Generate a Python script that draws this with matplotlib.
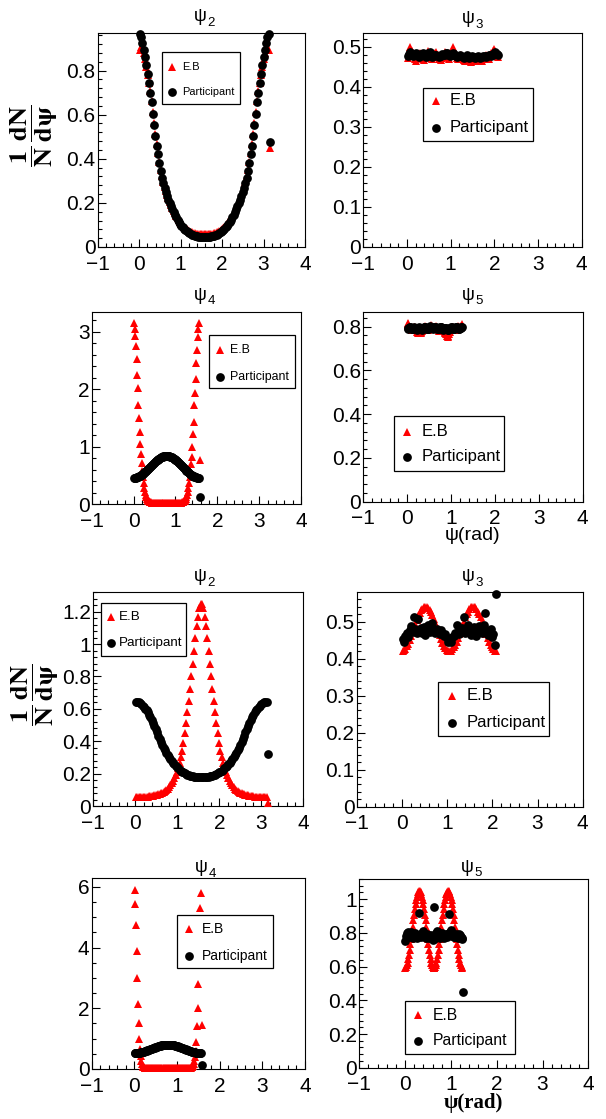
import numpy as np
import matplotlib
matplotlib.use("Agg")
import matplotlib.pyplot as plt
from matplotlib.ticker import MultipleLocator, FuncFormatter
from matplotlib.patches import Rectangle
from matplotlib.lines import Line2D

plt.rcParams['font.family'] = ['Liberation Sans', 'DejaVu Sans']

# ---------------- data ----------------
# bin widths (rad)
w_coarse = np.pi / 100
w_fine = np.pi / 200

# --- upper group ---
psi2_a_eb = [0.895, 0.905, 0.9, 0.88, 0.85, 0.815, 0.78, 0.745, 0.705, 0.66,
             0.61, 0.56, 0.51, 0.465, 0.425, 0.385, 0.35, 0.32, 0.295, 0.273,
             0.253, 0.236, 0.22, 0.205, 0.191, 0.178, 0.165, 0.153, 0.142, 0.132,
             0.122, 0.113, 0.105, 0.098, 0.091, 0.085, 0.08, 0.076, 0.072, 0.069,
             0.066, 0.064, 0.062, 0.061, 0.06, 0.059, 0.058, 0.058, 0.057, 0.057,
             0.057, 0.057, 0.058, 0.058, 0.059, 0.06, 0.061, 0.062, 0.064, 0.066,
             0.069, 0.072, 0.076, 0.08, 0.085, 0.091, 0.098, 0.105, 0.113, 0.122,
             0.132, 0.142, 0.153, 0.165, 0.178, 0.191, 0.205, 0.22, 0.236, 0.253,
             0.273, 0.295, 0.32, 0.35, 0.385, 0.425, 0.465, 0.51, 0.56, 0.61,
             0.66, 0.705, 0.745, 0.78, 0.815, 0.85, 0.88, 0.9, 0.905, 0.895,
             0.45]
psi2_a_part = [0.965, 0.95, 0.925, 0.895, 0.86, 0.825, 0.785, 0.745, 0.70, 0.655,
               0.605, 0.555, 0.505, 0.46, 0.42, 0.38, 0.345, 0.315, 0.29, 0.268,
               0.248, 0.23, 0.214, 0.199, 0.185, 0.171, 0.158, 0.146, 0.135, 0.124,
               0.114, 0.105, 0.097, 0.089, 0.082, 0.076, 0.071, 0.066, 0.062, 0.059,
               0.056, 0.053, 0.051, 0.049, 0.048, 0.047, 0.046, 0.045, 0.045, 0.045,
               0.045, 0.045, 0.045, 0.046, 0.047, 0.048, 0.049, 0.051, 0.053, 0.056,
               0.059, 0.062, 0.066, 0.071, 0.076, 0.082, 0.089, 0.097, 0.105, 0.114,
               0.124, 0.135, 0.146, 0.158, 0.171, 0.185, 0.199, 0.214, 0.23, 0.248,
               0.268, 0.29, 0.315, 0.345, 0.38, 0.42, 0.46, 0.505, 0.555, 0.605,
               0.655, 0.70, 0.745, 0.785, 0.825, 0.86, 0.895, 0.925, 0.95, 0.965,
               0.475]

psi3_a_eb = [0.472, 0.485, 0.498, 0.49, 0.478, 0.468, 0.465, 0.472, 0.48, 0.485,
             0.478, 0.47, 0.467, 0.474, 0.482, 0.488, 0.48, 0.472, 0.468, 0.475,
             0.483, 0.487, 0.478, 0.469, 0.466, 0.472, 0.48, 0.486, 0.482, 0.475,
             0.47, 0.476, 0.488, 0.499, 0.49, 0.478, 0.472, 0.47, 0.474, 0.478,
             0.472, 0.466, 0.463, 0.465, 0.468, 0.464, 0.462, 0.465, 0.469, 0.466,
             0.463, 0.465, 0.47, 0.468, 0.465, 0.468, 0.474, 0.478, 0.475, 0.47,
             0.476, 0.483, 0.49, 0.494, 0.488, 0.48, 0.474]
psi3_a_part = [0.476, 0.482, 0.486, 0.48, 0.476, 0.479, 0.484, 0.478, 0.474, 0.477,
               0.481, 0.483, 0.478, 0.475, 0.48, 0.485, 0.486, 0.479, 0.474, 0.476,
               0.479, 0.478, 0.476, 0.474, 0.477, 0.482, 0.48, 0.478, 0.483, 0.485,
               0.48, 0.476, 0.478, 0.484, 0.481, 0.477, 0.474, 0.476, 0.479, 0.477,
               0.474, 0.472, 0.475, 0.478, 0.474, 0.471, 0.473, 0.476, 0.474, 0.472,
               0.475, 0.477, 0.474, 0.472, 0.474, 0.477, 0.476, 0.474, 0.477, 0.48,
               0.478, 0.476, 0.479, 0.483, 0.486, 0.482, 0.478]

psi4_a_eb = [3.15, 3.05, 2.93, 2.75, 2.52, 2.25, 2.02, 1.72, 1.50, 1.25,
             1.05, 0.87, 0.72, 0.58, 0.47, 0.37, 0.29, 0.22, 0.17, 0.13,
             0.10, 0.08, 0.065, 0.052, 0.043, 0.037, 0.032, 0.028, 0.026, 0.024,
             0.023, 0.022, 0.021, 0.021, 0.02, 0.02, 0.02, 0.02, 0.02, 0.02,
             0.02, 0.02, 0.02, 0.02, 0.02, 0.02, 0.02, 0.02, 0.02, 0.02,
             0.02, 0.02, 0.02, 0.02, 0.02, 0.02, 0.02, 0.02, 0.02, 0.02,
             0.02, 0.02, 0.02, 0.02, 0.02, 0.02, 0.021, 0.021, 0.022, 0.023,
             0.024, 0.026, 0.028, 0.032, 0.037, 0.043, 0.052, 0.065, 0.08, 0.10,
             0.13, 0.17, 0.22, 0.29, 0.37, 0.47, 0.58, 0.70, 0.83, 1.0,
             1.22, 1.43, 1.72, 1.93, 2.18, 2.45, 2.68, 2.9, 3.05, 3.15,
             0.77]
psi4_a_part = [0.460, 0.461, 0.462, 0.465, 0.468, 0.471, 0.476, 0.481, 0.486, 0.493,
               0.500, 0.507, 0.516, 0.524, 0.534, 0.543, 0.553, 0.564, 0.575, 0.586,
               0.597, 0.609, 0.620, 0.632, 0.644, 0.656, 0.668, 0.680, 0.691, 0.703,
               0.714, 0.725, 0.736, 0.747, 0.757, 0.766, 0.776, 0.784, 0.793, 0.800,
               0.807, 0.814, 0.819, 0.824, 0.829, 0.832, 0.835, 0.838, 0.839, 0.840,
               0.840, 0.839, 0.838, 0.835, 0.832, 0.829, 0.824, 0.819, 0.814, 0.807,
               0.800, 0.793, 0.784, 0.776, 0.766, 0.757, 0.747, 0.736, 0.725, 0.714,
               0.703, 0.691, 0.680, 0.668, 0.656, 0.644, 0.632, 0.620, 0.609, 0.597,
               0.586, 0.575, 0.564, 0.553, 0.543, 0.534, 0.524, 0.516, 0.507, 0.500,
               0.493, 0.486, 0.481, 0.476, 0.471, 0.468, 0.465, 0.462, 0.461, 0.460,
               0.12]

psi5_a_eb = [0.818, 0.812, 0.805, 0.798, 0.793, 0.79, 0.786, 0.784, 0.789, 0.795,
             0.8, 0.797, 0.79, 0.783, 0.776, 0.772, 0.774, 0.78, 0.776, 0.771,
             0.775, 0.782, 0.788, 0.793, 0.797, 0.8, 0.803, 0.8, 0.795, 0.79,
             0.786, 0.789, 0.794, 0.8, 0.806, 0.803, 0.798, 0.793, 0.789, 0.792,
             0.797, 0.802, 0.8, 0.795, 0.79, 0.786, 0.782, 0.785, 0.79, 0.795,
             0.799, 0.796, 0.79, 0.784, 0.778, 0.772, 0.765, 0.758, 0.752, 0.758,
             0.768, 0.778, 0.786, 0.792, 0.797, 0.8, 0.798, 0.794, 0.79, 0.787,
             0.79, 0.795, 0.8, 0.804, 0.801, 0.797, 0.794, 0.798, 0.805, 0.812]
psi5_a_part = [0.788, 0.792, 0.796, 0.8, 0.797, 0.793, 0.79, 0.788, 0.791, 0.795,
               0.798, 0.796, 0.792, 0.789, 0.787, 0.79, 0.794, 0.797, 0.795, 0.791,
               0.788, 0.786, 0.789, 0.793, 0.797, 0.8, 0.798, 0.794, 0.79, 0.788,
               0.791, 0.795, 0.799, 0.802, 0.799, 0.795, 0.792, 0.79, 0.793, 0.797,
               0.8, 0.797, 0.793, 0.79, 0.788, 0.79, 0.794, 0.798, 0.801, 0.798,
               0.794, 0.79, 0.787, 0.789, 0.793, 0.796, 0.794, 0.79, 0.787, 0.786,
               0.789, 0.792, 0.796, 0.799, 0.797, 0.793, 0.79, 0.788, 0.791, 0.795,
               0.798, 0.8, 0.797, 0.793, 0.79, 0.789, 0.792, 0.796, 0.799, 0.797]

# --- lower group ---
psi2_b_eb = [0.055, 0.054, 0.054, 0.054, 0.055, 0.055, 0.056, 0.056, 0.057, 0.058,
             0.059, 0.06, 0.061, 0.063, 0.065, 0.067, 0.069, 0.072, 0.075, 0.079,
             0.083, 0.088, 0.093, 0.1, 0.108, 0.117, 0.128, 0.14, 0.155, 0.172,
             0.19, 0.21, 0.235, 0.265, 0.30, 0.34, 0.39, 0.45, 0.51, 0.58,
             0.65, 0.72, 0.80, 0.88, 0.96, 1.04, 1.11, 1.17, 1.22, 1.25,
             1.25, 1.22, 1.17, 1.11, 1.04, 0.96, 0.88, 0.80, 0.72, 0.65,
             0.58, 0.51, 0.45, 0.39, 0.34, 0.30, 0.265, 0.235, 0.21, 0.19,
             0.172, 0.155, 0.14, 0.128, 0.117, 0.108, 0.1, 0.093, 0.088, 0.083,
             0.079, 0.075, 0.072, 0.069, 0.067, 0.065, 0.063, 0.061, 0.06, 0.059,
             0.058, 0.057, 0.056, 0.056, 0.055, 0.055, 0.054, 0.054, 0.054, 0.055,
             0.02]
psi2_b_part = [0.645, 0.643, 0.64, 0.635, 0.628, 0.62, 0.61, 0.60, 0.59, 0.578,
               0.563, 0.547, 0.53, 0.513, 0.495, 0.476, 0.456, 0.435, 0.414, 0.395,
               0.377, 0.36, 0.345, 0.33, 0.316, 0.303, 0.29, 0.279, 0.268, 0.258,
               0.249, 0.24, 0.232, 0.225, 0.218, 0.212, 0.207, 0.202, 0.198, 0.194,
               0.191, 0.188, 0.186, 0.184, 0.182, 0.181, 0.18, 0.179, 0.179, 0.178,
               0.178, 0.179, 0.179, 0.18, 0.181, 0.182, 0.184, 0.186, 0.188, 0.191,
               0.194, 0.198, 0.202, 0.207, 0.212, 0.218, 0.225, 0.232, 0.24, 0.249,
               0.258, 0.268, 0.279, 0.29, 0.303, 0.316, 0.33, 0.345, 0.36, 0.377,
               0.395, 0.414, 0.435, 0.456, 0.476, 0.495, 0.513, 0.53, 0.547, 0.563,
               0.578, 0.59, 0.60, 0.61, 0.62, 0.628, 0.635, 0.64, 0.643, 0.645,
               0.32]

psi3_b_eb = [0.420, 0.422, 0.427, 0.433, 0.440, 0.449, 0.460, 0.471, 0.482, 0.493,
             0.504, 0.514, 0.522, 0.530, 0.535, 0.539, 0.540, 0.539, 0.536, 0.532,
             0.525, 0.517, 0.507, 0.497, 0.486, 0.474, 0.463, 0.453, 0.443, 0.435,
             0.428, 0.424, 0.421, 0.420, 0.421, 0.425, 0.430, 0.438, 0.446, 0.456,
             0.467, 0.478, 0.489, 0.500, 0.511, 0.520, 0.527, 0.533, 0.538, 0.540,
             0.540, 0.538, 0.533, 0.527, 0.520, 0.511, 0.500, 0.489, 0.478, 0.467,
             0.456, 0.446, 0.438, 0.430, 0.425, 0.421, 0.420]
psi3_b_part = [0.452, 0.445, 0.462, 0.47, 0.458, 0.478, 0.488, 0.472, 0.512, 0.48,
               0.468, 0.506, 0.476, 0.482, 0.47, 0.485, 0.464, 0.478, 0.49, 0.472,
               0.483, 0.496, 0.476, 0.468, 0.481, 0.474, 0.466, 0.478, 0.47, 0.46,
               0.466, 0.455, 0.446, 0.452, 0.444, 0.458, 0.462, 0.47, 0.49, 0.472,
               0.466, 0.476, 0.482, 0.512, 0.47, 0.48, 0.49, 0.475, 0.465, 0.478,
               0.484, 0.47, 0.462, 0.476, 0.488, 0.48, 0.47, 0.49, 0.522, 0.478,
               0.464, 0.472, 0.48, 0.458, 0.466, 0.438, 0.575]

psi4_b_eb = [5.9, 5.45, 4.75, 3.9, 3.0, 2.15, 1.5, 1.0, 0.65, 0.42,
             0.27, 0.17, 0.11, 0.075, 0.055, 0.042, 0.034, 0.028, 0.025, 0.023,
             0.022, 0.021, 0.02, 0.02, 0.02, 0.02, 0.02, 0.02, 0.02, 0.02,
             0.02, 0.02, 0.02, 0.02, 0.02, 0.02, 0.02, 0.02, 0.02, 0.02,
             0.02, 0.02, 0.02, 0.02, 0.02, 0.02, 0.02, 0.02, 0.02, 0.02,
             0.02, 0.02, 0.02, 0.02, 0.02, 0.02, 0.02, 0.02, 0.02, 0.02,
             0.02, 0.02, 0.02, 0.02, 0.02, 0.02, 0.02, 0.02, 0.02, 0.02,
             0.02, 0.02, 0.02, 0.02, 0.02, 0.02, 0.02, 0.02, 0.021, 0.022,
             0.023, 0.025, 0.028, 0.034, 0.042, 0.055, 0.075, 0.11, 0.17, 0.26,
             0.4, 0.6, 0.9, 1.4, 2.0, 2.8, 3.8, 4.6, 5.3, 5.8,
             1.45]
psi4_b_part = [0.520, 0.521, 0.522, 0.523, 0.526, 0.528, 0.532, 0.535, 0.539, 0.544,
               0.549, 0.555, 0.561, 0.567, 0.574, 0.581, 0.589, 0.596, 0.604, 0.613,
               0.621, 0.629, 0.638, 0.647, 0.656, 0.664, 0.673, 0.682, 0.691, 0.699,
               0.707, 0.716, 0.724, 0.731, 0.739, 0.746, 0.753, 0.759, 0.765, 0.771,
               0.776, 0.781, 0.785, 0.788, 0.792, 0.794, 0.797, 0.798, 0.799, 0.800,
               0.800, 0.799, 0.798, 0.797, 0.794, 0.792, 0.788, 0.785, 0.781, 0.776,
               0.771, 0.765, 0.759, 0.753, 0.746, 0.739, 0.731, 0.724, 0.716, 0.707,
               0.699, 0.691, 0.682, 0.673, 0.664, 0.656, 0.647, 0.638, 0.629, 0.621,
               0.613, 0.604, 0.596, 0.589, 0.581, 0.574, 0.567, 0.561, 0.555, 0.549,
               0.544, 0.539, 0.535, 0.532, 0.528, 0.526, 0.523, 0.522, 0.521, 0.520,
               0.13]

psi5_b_eb = [0.591, 0.596, 0.607, 0.624, 0.645, 0.671, 0.700, 0.732, 0.766, 0.802,
             0.838, 0.874, 0.908, 0.940, 0.969, 0.995, 1.016, 1.032, 1.044, 1.049,
             1.049, 1.044, 1.032, 1.016, 0.995, 0.969, 0.940, 0.908, 0.874, 0.838,
             0.802, 0.766, 0.732, 0.700, 0.671, 0.645, 0.624, 0.607, 0.596, 0.591,
             0.591, 0.596, 0.607, 0.624, 0.645, 0.671, 0.700, 0.732, 0.766, 0.802,
             0.838, 0.874, 0.908, 0.940, 0.969, 0.995, 1.016, 1.032, 1.044, 1.049,
             1.049, 1.044, 1.032, 1.016, 0.995, 0.969, 0.940, 0.908, 0.874, 0.838,
             0.802, 0.766, 0.732, 0.700, 0.671, 0.645, 0.624, 0.607, 0.596, 0.591]
psi5_b_part = [0.752, 0.78, 0.798, 0.805, 0.79, 0.776, 0.784, 0.8, 0.808, 0.795,
               0.78, 0.772, 0.785, 0.797, 0.79, 0.778, 0.77, 0.782, 0.79, 0.92,
               0.785, 0.776, 0.788, 0.8, 0.812, 0.803, 0.79, 0.778, 0.772, 0.78,
               0.792, 0.786, 0.775, 0.768, 0.778, 0.79, 0.783, 0.77, 0.758, 0.955,
               0.762, 0.775, 0.788, 0.8, 0.81, 0.805, 0.792, 0.78, 0.772, 0.779,
               0.79, 0.797, 0.788, 0.777, 0.771, 0.78, 0.793, 0.784, 0.776, 0.78,
               0.91, 0.798, 0.808, 0.815, 0.802, 0.79, 0.78, 0.773, 0.778, 0.787,
               0.795, 0.786, 0.776, 0.77, 0.782, 0.794, 0.788, 0.778, 0.772, 0.765,
               0.45]

titles = ["2", "3", "4", "5", "2", "3", "4", "5"]
legend_labels = ["E.B", "Participant"]

# ---------------- layout / style ----------------
W, H = 606, 1119
fig = plt.figure(figsize=(W / 100, H / 100), dpi=100)


def fx(px):
    return px / W


def fy(py):
    return 1 - py / H


panels = [
    dict(eb=psi2_a_eb, part=psi2_a_part, w=w_coarse, box=(97.7, 33, 305, 247),
         ymax=0.97, ymaj=0.2, ymin=0.04,
         leg=(161.7, 52.3, 240, 104.3), leg_y=(66.7, 91.7), leg_mx=171.7, leg_tx=181.7, leg_fs=7.9,
         tx=200.5, ty=16.5),
    dict(eb=psi3_a_eb, part=psi3_a_part, w=w_coarse, box=(363.3, 33, 581.7, 247),
         ymax=0.534, ymaj=0.1, ymin=0.02,
         leg=(422.7, 87.7, 533.3, 141), leg_y=(100.7, 127.7), leg_mx=436, leg_tx=450, leg_fs=12,
         tx=468, ty=18.5),
    dict(eb=psi4_a_eb, part=psi4_a_part, w=w_fine, box=(91.7, 312.3, 301, 504.3),
         ymax=3.335, ymaj=1, ymin=0.2,
         leg=(209.3, 335, 295, 388.3), leg_y=(350, 376.7), leg_mx=220, leg_tx=230, leg_fs=8.9,
         tx=200.5, ty=295),
    dict(eb=psi5_a_eb, part=psi5_a_part, w=w_fine, box=(363.3, 312.3, 582.7, 501.7),
         ymax=0.866, ymaj=0.2, ymin=0.04,
         leg=(394.3, 416, 504.3, 470.7), leg_y=(431.7, 456.7), leg_mx=407.3, leg_tx=421.7, leg_fs=12,
         tx=468, ty=295),
    dict(eb=psi2_b_eb, part=psi2_b_part, w=w_coarse, box=(93.3, 592.3, 303.3, 806),
         ymax=1.32, ymaj=0.2, ymin=0.04,
         leg=(100.7, 602.7, 186, 656), leg_y=(616.7, 642.7), leg_mx=111, leg_tx=119.3, leg_fs=9.6,
         tx=200.5, ty=576.5),
    dict(eb=psi3_b_eb, part=psi3_b_part, w=w_coarse, box=(356.7, 592.3, 582.7, 806.7),
         ymax=0.579, ymaj=0.1, ymin=0.02,
         leg=(438.3, 682.3, 549.3, 735.7), leg_y=(696, 722.7), leg_mx=451.7, leg_tx=466.7, leg_fs=12,
         tx=468, ty=576.5),
    dict(eb=psi4_b_eb, part=psi4_b_part, w=w_fine, box=(91.7, 878.3, 305, 1069),
         ymax=6.28, ymaj=2, ymin=0.5,
         leg=(177.3, 915, 273.3, 968.3), leg_y=(929.3, 955.7), leg_mx=189.3, leg_tx=201.7, leg_fs=10,
         tx=201, ty=868),
    dict(eb=psi5_b_eb, part=psi5_b_part, w=w_fine, box=(359.3, 879, 588.3, 1067.7),
         ymax=1.12, ymaj=0.2, ymin=0.04,
         leg=(405, 1001, 515, 1054), leg_y=(1015, 1040.7), leg_mx=418.3, leg_tx=432.7, leg_fs=11.3,
         tx=467, ty=867),
]

TRI_MS = 5.6
CIRC_MS = 6.3
RED = '#ff0000'


def fmt(v, pos):
    s = '%g' % round(v, 6)
    return s.replace('-', '\u2212')


for k, p in enumerate(panels):
    x0, y0, x1, y1 = p['box']
    ax = fig.add_axes([fx(x0), fy(y1), fx(x1) - fx(x0), fy(y0) - fy(y1)])
    xe = (np.arange(len(p['eb'])) + 0.5) * p['w']
    xp = (np.arange(len(p['part'])) + 0.5) * p['w']
    ax.plot(xe, p['eb'], ls='none', marker='^', ms=TRI_MS, mew=0, color=RED, clip_on=False, zorder=3)
    ax.plot(xp, p['part'], ls='none', marker='o', ms=CIRC_MS, mew=0, color='black', clip_on=False, zorder=4)
    ax.set_xlim(-1, 4)
    ax.set_ylim(0, p['ymax'])
    ax.xaxis.set_major_locator(MultipleLocator(1))
    ax.xaxis.set_minor_locator(MultipleLocator(0.2))
    ax.yaxis.set_major_locator(MultipleLocator(p['ymaj']))
    ax.yaxis.set_minor_locator(MultipleLocator(p['ymin']))
    ax.xaxis.set_major_formatter(FuncFormatter(fmt))
    ax.yaxis.set_major_formatter(FuncFormatter(fmt))
    ax.tick_params(which='both', direction='in', top=False, right=False, width=0.8, colors='black')
    ax.tick_params(which='major', length=5.5)
    ax.tick_params(which='minor', length=2.8)
    ax.tick_params(axis='x', which='major', labelsize=15, pad=5.5)
    ax.tick_params(axis='y', which='major', labelsize=15, pad=1.5)
    for s in ax.spines.values():
        s.set_linewidth(0.8)

    # title psi_n
    fig.text(fx(p['tx']), fy(p['ty']), '\u03c8', fontsize=13, ha='center', va='center')
    fig.text(fx(p['tx'] + 11), fy(p['ty'] + 6), titles[k], fontsize=9.5, ha='center', va='center')

    # legend box
    lx0, ly0, lx1, ly1 = p['leg']
    fig.add_artist(Rectangle((fx(lx0), fy(ly1)), fx(lx1) - fx(lx0), fy(ly0) - fy(ly1),
                             transform=fig.transFigure, facecolor='white', edgecolor='black',
                             linewidth=0.9, zorder=10))
    fig.add_artist(Line2D([fx(p['leg_mx'])], [fy(p['leg_y'][0])], marker='^', ms=TRI_MS, mew=0,
                          color=RED, ls='none', transform=fig.transFigure, zorder=11))
    fig.add_artist(Line2D([fx(p['leg_mx'])], [fy(p['leg_y'][1])], marker='o', ms=CIRC_MS, mew=0,
                          color='black', ls='none', transform=fig.transFigure, zorder=11))
    for j in range(2):
        fig.text(fx(p['leg_tx']), fy(p['leg_y'][j]), legend_labels[j], fontsize=p['leg_fs'],
                 ha='left', va='center', zorder=12)

# y-axis labels (left column)
ylab = r'$\mathbf{\dfrac{1}{N}\,\dfrac{dN}{d\psi}}$'
fig.text(fx(34), fy(136), ylab, rotation=90, ha='center', va='center', fontsize=19, math_fontfamily='stix')
fig.text(fx(35), fy(695), ylab, rotation=90, ha='center', va='center', fontsize=19, math_fontfamily='stix')

# x-axis labels
fig.text(fx(472.5), fy(536), '\u03c8(rad)', ha='center', va='center', fontsize=14)
fig.text(fx(473), fy(1103), '\u03c8(rad)', ha='center', va='center', fontsize=15,
         family=['Liberation Serif', 'DejaVu Serif'], weight='bold')

fig.savefig('out.png', dpi=100)
